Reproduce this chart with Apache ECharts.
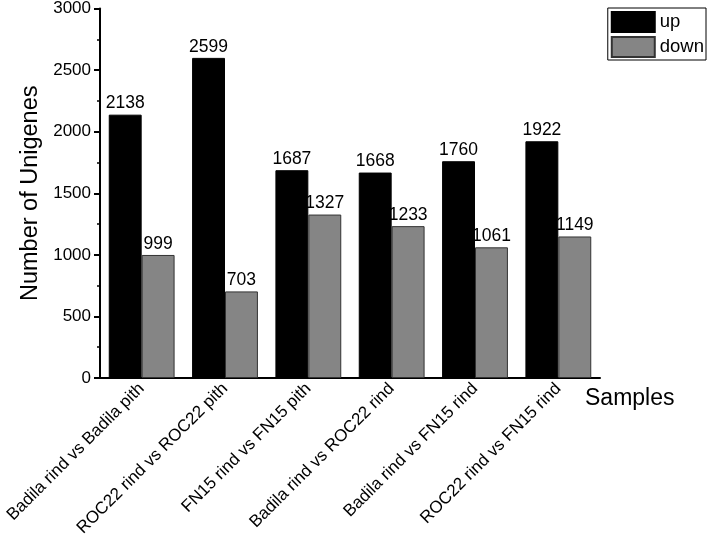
<!DOCTYPE html>
<html>
<head>
<meta charset="utf-8">
<script src="https://cdn.jsdelivr.net/npm/echarts@6/dist/echarts.min.js"></script>
<style>
  html, body { margin: 0; padding: 0; background: #fff; }
  #main { width: 709px; height: 548px; }
</style>
</head>
<body>
<div id="main"></div>
<script>
// 样本对比
const categories = [
  'Badila rind vs Badila pith',
  'ROC22 rind vs ROC22 pith',
  'FN15 rind vs FN15 pith',
  'Badila rind vs ROC22 rind',
  'Badila rind vs FN15 rind',
  'ROC22 rind vs FN15 rind'
]
const upData = [2138, 2599, 1687, 1668, 1760, 1922]
const downData = [999, 703, 1327, 1233, 1061, 1149]
const yTicks = [0, 500, 1000, 1500, 2000, 2500, 3000]

const font = 'Liberation Sans, Arial, sans-serif'
const myChart = echarts.init(document.getElementById('main'))

const barLabel = {
  show: true,
  position: 'top',
  color: '#000',
  fontSize: 17.5,
  fontFamily: font,
  distance: 2
}

const option = {
  animation: false,
  textStyle: { fontFamily: font },
  grid: {
    left: 100,
    right: 109,
    top: 8,
    bottom: 170
  },
  legend: {
    orient: 'vertical',
    right: 3,
    top: 8,
    icon: 'rect',
    itemWidth: 43,
    itemHeight: 20,
    itemGap: 3,
    padding: [3, 2, 2, 3],
    borderColor: '#000',
    borderWidth: 1,
    textStyle: { fontSize: 18.5, color: '#000', fontFamily: font },
    data: ['up', 'down']
  },
  xAxis: {
    type: 'category',
    data: categories,
    name: 'Samples',
    nameLocation: 'end',
    nameGap: -15,
    nameTextStyle: {
      fontSize: 23,
      color: '#000',
      align: 'left',
      verticalAlign: 'top',
      padding: [9, 0, 0, 0]
    },
    axisLine: { lineStyle: { color: '#000', width: 2 } },
    axisTick: { show: false },
    axisLabel: {
      rotate: 45,
      interval: 0,
      color: '#000',
      fontSize: 17,
      margin: 8
    }
  },
  yAxis: {
    type: 'value',
    min: 0,
    max: 3000,
    interval: 500,
    name: 'Number of Unigenes',
    nameLocation: 'middle',
    nameGap: 56,
    nameTextStyle: { fontSize: 23.5, color: '#000' },
    axisLine: { show: true, lineStyle: { color: '#000', width: 2 } },
    axisTick: { show: true, length: 6, lineStyle: { color: '#000', width: 2 } },
    minorTick: { show: true, splitNumber: 2, length: 3, lineStyle: { color: '#000', width: 1.5 } },
    splitLine: { show: false },
    axisLabel: {
      color: '#000',
      fontSize: 17,
      margin: 9,
      formatter: (v) => (yTicks.includes(v) ? String(v) : '')
    }
  },
  series: [
    {
      name: 'up',
      type: 'bar',
      data: upData,
      barGap: '0%',
      barCategoryGap: '21%',
      itemStyle: { color: '#000', borderColor: '#000', borderWidth: 1 },
      label: barLabel
    },
    {
      name: 'down',
      type: 'bar',
      data: downData,
      itemStyle: { color: '#858585', borderColor: '#333', borderWidth: 1 },
      label: barLabel
    }
  ]
}

myChart.setOption(option)
</script>
</body>
</html>
